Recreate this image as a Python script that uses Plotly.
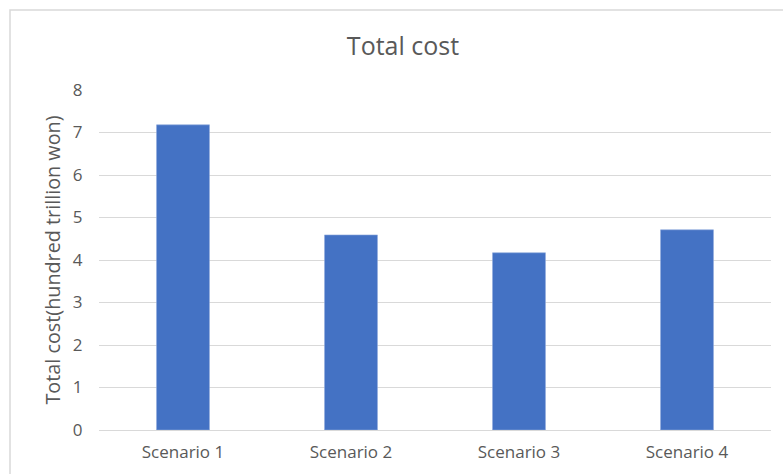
import plotly.graph_objects as go

# Chart data
scenarios = ["Scenario 1", "Scenario 2", "Scenario 3", "Scenario 4"]
total_cost = [7.18, 4.59, 4.17, 4.71]
y_ticks = [0, 1, 2, 3, 4, 5, 6, 7, 8]

FONT = "'Open Sans', 'Noto Sans', sans-serif"
GRAY = "#595959"
GRID = "#D9D9D9"

fig = go.Figure(
    go.Bar(
        x=scenarios,
        y=total_cost,
        marker=dict(color="#4472C4", line=dict(color="#8FAADC", width=0.6)),
        width=0.315,
        hoverinfo="x+y",
    )
)

fig.update_layout(
    width=783,
    height=474,
    margin=dict(l=99, r=12, t=90, b=44),
    paper_bgcolor="white",
    plot_bgcolor="white",
    showlegend=False,
    title=dict(
        text="Total cost",
        x=403 / 783,
        xanchor="center",
        y=1 - 46 / 474,
        yanchor="middle",
        font=dict(family=FONT, size=25, color=GRAY),
    ),
    font=dict(family=FONT, color=GRAY),
)

fig.update_xaxes(
    showgrid=False,
    showline=True,
    linecolor=GRID,
    linewidth=1,
    ticks="outside",
    ticklen=7,
    tickcolor="white",
    tickfont=dict(family=FONT, size=17, color=GRAY),
    fixedrange=True,
)

fig.update_yaxes(
    range=[0, 8],
    tickvals=y_ticks,
    showgrid=True,
    gridcolor=GRID,
    gridwidth=1,
    zeroline=False,
    showline=False,
    ticks="outside",
    ticklen=12,
    tickcolor="white",
    tickfont=dict(family=FONT, size=17, color=GRAY),
    title=dict(
        text="Total cost(hundred trillion won)",
        font=dict(family=FONT, size=19.8, color=GRAY),
        standoff=6,
    ),
    fixedrange=True,
)

# Chart-area frame (runs past the right and bottom edges of the page)
fig.add_shape(
    type="rect",
    xref="paper",
    yref="paper",
    x0=(10 - 99) / 672,
    x1=1.1,
    y0=-0.2,
    y1=(430 - 10) / 340,
    line=dict(color=GRID, width=1.5),
    fillcolor="rgba(0,0,0,0)",
    layer="below",
)

fig.write_html("out.html")
